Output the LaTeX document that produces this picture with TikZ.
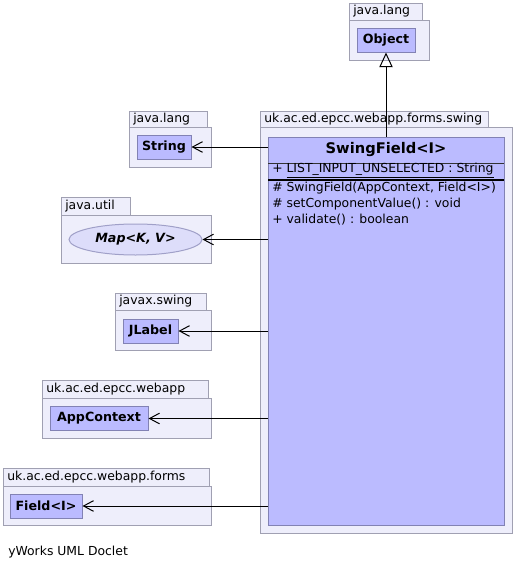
\documentclass[tikz,border=0pt]{standalone}
\usepackage{fontspec}
\setmainfont{DejaVu Sans}
\usetikzlibrary{positioning,arrows.meta,shapes.geometric}

\definecolor{pkgfill}{RGB}{238,238,251}
\definecolor{pkgline}{RGB}{160,160,178}
\definecolor{clsfill}{RGB}{187,187,255}
\definecolor{clsline}{RGB}{130,130,180}
\definecolor{ifcfill}{RGB}{221,221,250}
\definecolor{ifcline}{RGB}{160,160,200}

\begin{document}
\begin{tikzpicture}[
    x=0.75pt, y=-0.75pt,
    % package folders (tab + body) and their names
    pkgbox/.style={draw=pkgline, fill=pkgfill, line width=0.75pt},
    pkglabel/.style={anchor=west, inner sep=0pt, font=\fontsize{9.3}{11}\selectfont},
    % classes
    cls/.style={rectangle, draw=clsline, fill=clsfill, line width=0.75pt, inner sep=0pt, minimum height=18pt, font=\fontsize{9.5}{11}\selectfont\bfseries},
    ifc/.style={ellipse, draw=ifcline, fill=ifcfill, line width=0.75pt, inner sep=0pt, font=\fontsize{9.5}{11}\selectfont\bfseries\itshape},
    member/.style={anchor=west, inner sep=0pt, font=\fontsize{9.3}{11}\selectfont},
    % connectors
    dep/.style={line width=0.75pt, -{Straight Barb[length=7.5pt, width=8pt, line width=0.75pt]}},
    inh/.style={line width=0.75pt, -{Triangle[open, length=11pt, width=10pt, line width=0.75pt]}}
]
\useasboundingbox (0,0) rectangle (515,571);

% Package folders: left/tab right/body right/top/tab bottom/bottom/name
\foreach \lft/\tabr/\rgt/\tp/\md/\bt/\lab in {
    349/422/429/3/20/60/java.lang,
    129/207/211/111/127/167/java.lang,
    61/130/211/197/215/263/java.util,
    115/206/211/293/310/350/javax.swing,
    42/208/211/380/398/438/uk.ac.ed.epcc.webapp,
    3/209/211/468/486/525/uk.ac.ed.epcc.webapp.forms,
    260/488/512/111/127/533/uk.ac.ed.epcc.webapp.forms.swing} {
  \draw[pkgbox] (\lft,\md) rectangle (\rgt,\bt);
  \draw[pkgbox] (\lft,\tp) rectangle (\tabr,\md);
  \node[pkglabel] at ({\lft+4},{(\tp+\md)/2}) {\lab};
}

% Classes
\node[cls, minimum width=43.5pt] (obj) at (386,40) {Object};
\node[cls, minimum width=40.5pt] (str) at (164,147) {String};
\node[ifc, minimum width=99.75pt, minimum height=23.25pt] (map) at (135.5,239.5) {Map<K, V>};
\node[cls, minimum width=41.25pt] (jlabel) at (150.5,331) {JLabel};
\node[cls, minimum width=73.5pt] (appctx) at (99,418.5) {AppContext};
\node[cls, minimum width=54pt] (field) at (46,506) {Field<I>};

% SwingField with its compartments
\node[cls, minimum width=177pt, minimum height=291pt] (swing) at (386,331) {};
\node[font=\fontsize{11}{13}\selectfont\bfseries, inner sep=0pt] (swingname) at (386,150) {SwingField<I>};
\draw[line width=0.75pt, black!80] (268,163) -- (504,163);
\draw[line width=1.5pt] (268,180) -- (504,180);
\node[member] (attr1) at (272,171) {+ \underline{LIST\_INPUT\_UNSELECTED : String}};
\node[member] (op1) at (272,188) {\# SwingField(AppContext, Field<I>)};
\node[member] (op2) at (272,204) {\# setComponentValue() : void};
\node[member] (op3) at (272,220) {+ validate() : boolean};

% Inheritance and dependencies
\draw[inh] (swing.north) -- (obj.south);
\draw[dep] (swing.west |- str.east) -- (str.east);
\draw[dep] (swing.west |- map.east) -- (map.east);
\draw[dep] (swing.west |- jlabel.east) -- (jlabel.east);
\draw[dep] (swing.west |- appctx.east) -- (appctx.east);
\draw[dep] (swing.west |- field.east) -- (field.east);

\node[pkglabel] (doclet) at (8,552) {yWorks UML Doclet};

\end{tikzpicture}
\end{document}
